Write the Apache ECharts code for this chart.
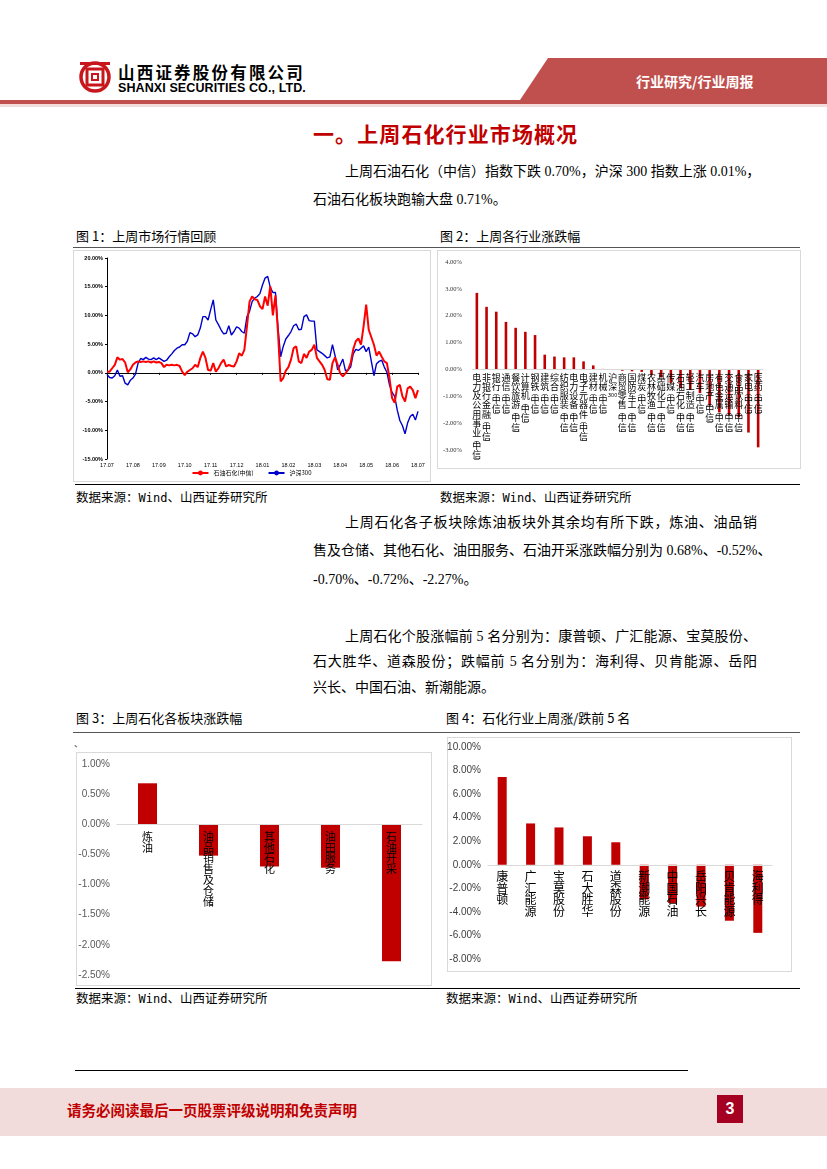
<!DOCTYPE html>
<html><head><meta charset="utf-8">
<script src="https://cdn.jsdelivr.net/npm/echarts@6/dist/echarts.min.js"></script>
<style>
body{margin:0;width:827px;height:1169px;position:relative;background:#fff;overflow:hidden;font-family:"Liberation Serif","Noto Sans CJK SC",serif;}
.abs{position:absolute}
.p{position:absolute;font-size:14px;color:#000;white-space:nowrap;line-height:16px;font-family:"Liberation Serif","Noto Sans CJK SC",serif;}
.j{text-align:justify;text-align-last:justify;}
.cap{position:absolute;font-size:13px;color:#000;white-space:nowrap;line-height:16px;font-family:"Noto Sans CJK SC",sans-serif;}
.src{position:absolute;font-size:12.5px;color:#000;white-space:nowrap;line-height:16px;font-family:"Noto Sans CJK SC",sans-serif;}
.src b{font-family:"DejaVu Sans Mono",monospace;font-weight:normal;font-size:12px}
.hl{position:absolute;height:0;}
.box{position:absolute;box-sizing:border-box;border:1px solid #d9d9d9;}
</style></head>
<body>
<!-- header -->
<svg class="abs" style="left:0;top:0" width="827" height="110">
  <polygon points="520,100 548,58 827,58 827,100" fill="#c0504d"/>
  <rect x="0" y="100" width="827" height="4" fill="#c0504d"/>
  <rect x="0" y="104" width="827" height="3" fill="#f2dcdb"/>
  <g fill="none" stroke="#c8161d">
    <circle cx="95" cy="77" r="14" stroke-width="3.5"/>
    <rect x="87" y="69" width="16" height="16" stroke-width="3"/>
    <rect x="92" y="74" width="6" height="6" stroke-width="2"/>
  </g>
  <rect x="80" y="62" width="30" height="3" fill="#c8161d"/>
</svg>
<div class="abs" style="left:118px;top:62px;font-size:16.5px;font-weight:bold;letter-spacing:2.2px;font-family:'Noto Sans CJK SC',sans-serif;line-height:20px;">山西证券股份有限公司</div>
<div class="abs" style="left:118px;top:81px;font-size:12.5px;font-weight:bold;font-family:'Liberation Sans',sans-serif;line-height:14px;letter-spacing:0.1px">SHANXI SECURITIES CO., LTD.</div>
<div class="abs" style="left:636px;top:72px;font-size:14px;color:#fff;font-weight:bold;font-family:'Noto Sans CJK SC',sans-serif;line-height:18px;">行业研究/行业周报</div>

<div class="abs" style="left:313px;top:120px;font-size:21px;color:#c00000;font-weight:bold;font-family:'Noto Sans CJK SC',sans-serif;line-height:26px;letter-spacing:1.1px">一。上周石化行业市场概况</div>

<div class="p j" style="left:345px;top:164px;width:412px">上周石油石化（中信）指数下跌 0.70%，沪深 300 指数上涨 0.01%，</div>
<div class="p" style="left:313px;top:192px;">石油石化板块跑输大盘 0.71%。</div>

<div class="cap" style="left:76px;top:228px;">图 1：上周市场行情回顾</div>
<div class="cap" style="left:440px;top:228px;">图 2：上周各行业涨跌幅</div>
<div class="hl" style="left:73px;top:247px;width:727px;border-top:1.5px solid #555"></div>

<div class="box" style="left:73px;top:250px;width:358px;height:232px"></div>
<div class="box" style="left:437px;top:250px;width:364px;height:219px"></div>
<div id="c1" class="abs" style="left:73px;top:251px;width:357px;height:230px"></div>
<div id="c2" class="abs" style="left:437px;top:251px;width:363px;height:217px"></div>

<div class="hl" style="left:75px;top:484px;width:725px;border-top:1px solid #000"></div>
<div class="src" style="left:76px;top:489px;">数据来源：<b>Wind</b>、山西证券研究所</div>
<div class="src" style="left:440px;top:489px;">数据来源：<b>Wind</b>、山西证券研究所</div>

<div class="p j" style="left:345px;top:515px;width:412px">上周石化各子板块除炼油板块外其余均有所下跌，炼油、油品销</div>
<div class="p j" style="left:313px;top:543px;width:444px">售及仓储、其他石化、油田服务、石油开采涨跌幅分别为 0.68%、-0.52%、</div>
<div class="p" style="left:313px;top:572px;">-0.70%、-0.72%、-2.27%。</div>
<div class="p j" style="left:345px;top:629px;width:412px">上周石化个股涨幅前 5 名分别为：康普顿、广汇能源、宝莫股份、</div>
<div class="p j" style="left:313px;top:654px;width:444px">石大胜华、道森股份；跌幅前 5 名分别为：海利得、贝肯能源、岳阳</div>
<div class="p" style="left:313px;top:680px;">兴长、中国石油、新潮能源。</div>

<div class="cap" style="left:76px;top:710px;">图 3：上周石化各板块涨跌幅</div>
<div class="cap" style="left:446px;top:710px;">图 4：石化行业上周涨/跌前 5 名</div>
<div class="hl" style="left:73px;top:732px;width:727px;border-top:1.5px solid #555"></div>
<div class="abs" style="left:74px;top:739px;font-size:9px;line-height:10px;color:#333">、</div>

<div class="box" style="left:76px;top:752px;width:356px;height:234px"></div>
<div class="box" style="left:447px;top:737px;width:345px;height:235px"></div>
<div id="c3" class="abs" style="left:76px;top:752px;width:356px;height:234px"></div>
<div id="c4" class="abs" style="left:447px;top:737px;width:345px;height:235px"></div>

<div class="hl" style="left:75px;top:988px;width:725px;border-top:1px solid #000"></div>
<div class="src" style="left:76px;top:990px;">数据来源：<b>Wind</b>、山西证券研究所</div>
<div class="src" style="left:446px;top:990px;">数据来源：<b>Wind</b>、山西证券研究所</div>

<div class="hl" style="left:75px;top:1070px;width:613px;border-top:1px solid #000"></div>
<div class="abs" style="left:0;top:1088px;width:827px;height:48px;background:#f2dcdb"></div>
<div class="abs" style="left:67px;top:1101px;font-size:14.5px;color:#c00000;font-weight:bold;font-family:'Noto Sans CJK SC',sans-serif;line-height:18px;">请务必阅读最后一页股票评级说明和免责声明</div>
<div class="abs" style="left:717px;top:1095px;width:26px;height:28px;background:#a50021;color:#fff;font-size:16px;line-height:28px;text-align:center;font-family:'Liberation Sans Narrow','Liberation Sans',sans-serif;font-weight:bold">3</div>

<script>
// ---------- Figure 1 data ----------
var months1 = ['17.07','17.08','17.09','17.10','17.11','17.12','18.01','18.02','18.03','18.04','18.05','18.06','18.07'];
var seriesNames1 = ['石油石化(中信)','沪深300'];
var petro = [0.2,0.2,0.8,1.4,2.7,2.3,2.4,1.8,0.1,0.6,
 1.4,1.8,2.0,1.9,2.0,1.9,2.0,1.8,2.0,1.8,
 1.9,1.7,1.0,1.4,1.3,1.4,1.3,1.4,1.2,0.2,
 -0.4,0.2,0.5,0.8,1.4,1.0,2.6,3.7,2.6,0.5,
 0.4,1.7,0.2,0.8,1.7,2.3,1.1,1.4,1.2,1.1,
 2.0,3.4,3.0,4.0,8.1,12.4,13.3,12.8,12.7,11.6,
 11.1,13.3,11.7,15.1,10.0,13.5,6.9,-1.5,-0.9,0.4,
 1.0,2.3,4.3,4.6,2.0,1.7,3.3,2.6,3.7,4.0,
 4.9,2.6,2.0,1.4,0.5,-1.1,-1.2,1.7,2.7,1.4,
 -0.1,-0.6,-0.1,0.5,1.7,4.1,5.5,6.0,4.9,8.1,
 11.9,7.5,6.2,4.9,3.0,3.7,2.8,2.0,1.7,-0.9,
 -4.4,-5.2,-2.4,-2.1,-4.1,-5.0,-2.7,-2.4,-3.0,-4.4,
 -3.0];
var hs300 = [-0.3,-0.8,-0.9,-0.5,0.5,-0.6,-0.5,-1.8,-2.1,-1.3,
 -0.9,-0.2,1.7,2.5,2.3,2.7,2.4,2.3,2.6,2.3,
 2.6,2.3,2.0,2.2,2.8,3.3,3.9,4.3,4.5,4.9,
 4.9,5.5,7.0,6.8,6.3,6.6,7.8,9.8,9.8,9.2,
 11.0,12.7,9.2,8.4,7.5,6.8,6.9,8.2,6.6,7.2,
 8.0,7.8,7.2,6.9,9.8,10.7,12.4,13.0,13.3,13.8,
 15.3,16.5,16.8,14.9,14.0,14.0,7.8,2.8,4.6,5.9,
 6.5,7.2,8.2,8.5,7.5,7.6,9.8,10.1,9.1,9.0,
 9.0,4.0,3.7,3.4,3.0,2.6,2.8,4.9,3.0,0.5,
 1.4,2.4,0.4,0.5,1.0,3.3,4.1,3.9,4.3,4.7,
 3.7,4.5,2.0,-0.5,1.6,2.0,2.2,1.0,0.1,-2.1,
 -3.4,-4.1,-6.5,-8.3,-9.2,-10.6,-8.7,-7.6,-7.2,-8.2,
 -6.7];

// ---------- Figure 2 data ----------
var industries = ['电力及公用事业(中信)','非银行金融(中信)','银行(中信)','通信(中信)','餐饮旅游(中信)','计算机(中信)','钢铁(中信)','建筑(中信)','综合(中信)','纺织服装(中信)','电力设备(中信)','电子元器件(中信)','建材(中信)','机械(中信)','沪深300','商贸零售(中信)','国防军工(中信)','煤炭(中信)','农林牧渔(中信)','基础化工(中信)','传媒(中信)','石油石化(中信)','轻工制造(中信)','汽车(中信)','房地产(中信)','有色金属(中信)','交通运输(中信)','食品饮料(中信)','家电(中信)','医药(中信)'];
var industryChg = [2.85,2.33,2.15,1.77,1.55,1.40,1.28,0.55,0.48,0.45,0.45,0.30,0.15,0.02,0.01,-0.05,-0.07,-0.09,-0.22,-0.30,-0.50,-0.70,-0.75,-0.88,-1.35,-1.60,-1.70,-1.78,-2.35,-2.90];

// ---------- Figure 3 data ----------
var sectors = ['炼油','油品销售及仓储','其他石化','油田服务','石油开采'];
var sectorChg = [0.68,-0.52,-0.70,-0.72,-2.27];

// ---------- Figure 4 data ----------
var stocks = ['康普顿','广汇能源','宝莫股份','石大胜华','道森股份','新潮能源','中国石油','岳阳兴长','贝肯能源','海利得'];
var stockChg = [7.45,3.51,3.17,2.42,1.91,-2.94,-3.25,-3.55,-4.75,-5.78];

var pct = function(v){ return v.toFixed(2) + '%'; };
function vert(s){ return s.split('').join('\n'); }
function vertRich(s){
  var toks = s.match(/\d+|./g);
  return toks.map(function(t){
    if (t === '(') return '{p|︵}';
    if (t === ')') return '{p|︶}';
    if (/\d/.test(t)) return '{n|' + t + '}';
    return t;
  }).join('\n');
}
function gridOpt(l,r,t,b){ return {left:l,right:r,top:t,bottom:b,containLabel:false,outerBoundsMode:'none'}; }
// move the category axis (line + labels) to the value 0 of the y axis
function axisToZero(chart, gridBottom){
  var zeroY = chart.convertToPixel({yAxisIndex:0}, 0);
  var bottomY = chart.getHeight() - gridBottom;
  chart.setOption({xAxis:{offset: -(bottomY - zeroY)}});
}

// Chart 1
var idx = petro.map(function(_, i){ return i; });
var c1 = echarts.init(document.getElementById('c1'));
c1.setOption({
  animation:false,
  grid:gridOpt(34,12,7,22),
  legend:{data:seriesNames1,bottom:0,left:'center',itemWidth:16,itemHeight:6,itemGap:14,
    textStyle:{fontSize:6,color:'#000',fontFamily:'Noto Sans CJK SC'}},
  xAxis:{type:'category',data:idx,boundaryGap:false,
    axisLine:{lineStyle:{color:'#000',width:1}},
    axisTick:{interval:9,length:2,lineStyle:{color:'#000'}},
    axisLabel:{interval:9,fontSize:5.5,color:'#000',margin:3,fontFamily:'Liberation Sans',
      formatter:function(v,i){ return months1[Math.round(i/10)]; }}},
  yAxis:{type:'value',min:-15,max:20,interval:5,
    axisLine:{show:true,lineStyle:{color:'#000',width:1}},
    axisTick:{show:true,length:2,lineStyle:{color:'#000'}},
    splitLine:{show:false},
    axisLabel:{fontSize:5.5,fontWeight:'bold',color:'#000',margin:4,fontFamily:'Liberation Sans',formatter:pct}},
  series:[
    {name:seriesNames1[0],type:'line',data:petro,symbol:'none',lineStyle:{color:'#ff0000',width:2},itemStyle:{color:'#ff0000'},z:3},
    {name:seriesNames1[1],type:'line',data:hs300,symbol:'none',lineStyle:{color:'#0000cc',width:1.4},itemStyle:{color:'#0000cc'},z:2}
  ]
});

// Chart 2
var c2 = echarts.init(document.getElementById('c2'));
c2.setOption({
  animation:false,
  grid:gridOpt(35,37,11,18),
  xAxis:{type:'category',data:industries,z:10,
    axisLine:{onZero:false,lineStyle:{color:'#d9d9d9'}},
    axisTick:{show:false},
    axisLabel:{interval:0,hideOverlap:false,margin:3,fontSize:9,lineHeight:9.3,color:'#000',
      fontFamily:'Noto Sans CJK SC',formatter:vertRich,
      rich:{p:{fontSize:7,lineHeight:3.5,color:'#000'},n:{fontSize:5.5,lineHeight:8,color:'#000'}}}},
  yAxis:{type:'value',min:-3,max:4,interval:1,
    axisLine:{show:false},axisTick:{show:false},splitLine:{show:false},
    axisLabel:{fontSize:6.5,color:'#333',margin:10,fontFamily:'Liberation Serif',formatter:pct}},
  series:[{type:'bar',data:industryChg,barWidth:2.6,itemStyle:{color:'#c00000'}}]
});
axisToZero(c2, 18);

// Chart 3
var c3 = echarts.init(document.getElementById('c3'));
c3.setOption({
  animation:false,
  grid:gridOpt(41,10,12,11),
  xAxis:{type:'category',data:sectors,z:10,
    axisLine:{onZero:false,lineStyle:{color:'#d9d9d9'}},
    axisTick:{show:false},
    axisLabel:{interval:0,margin:7,fontSize:11,lineHeight:10.8,color:'#000',fontFamily:'Noto Sans CJK SC',formatter:vert}},
  yAxis:{type:'value',min:-2.5,max:1,interval:0.5,
    axisLine:{show:false},axisTick:{show:false},splitLine:{show:false},
    axisLabel:{fontSize:10,color:'#595959',margin:7,fontFamily:'Liberation Sans',formatter:pct}},
  series:[{type:'bar',data:sectorChg,barWidth:19,itemStyle:{color:'#c00000'}}]
});
axisToZero(c3, 11);

// Chart 4
var c4 = echarts.init(document.getElementById('c4'));
c4.setOption({
  animation:false,
  grid:gridOpt(41,20,10,13),
  xAxis:{type:'category',data:stocks,z:10,
    axisLine:{onZero:false,lineStyle:{color:'#d9d9d9'}},
    axisTick:{show:false},
    axisLabel:{interval:0,margin:6,fontSize:12,lineHeight:11.5,color:'#000',fontFamily:'Noto Sans CJK SC',formatter:vert}},
  yAxis:{type:'value',min:-8,max:10,interval:2,
    axisLine:{show:false},axisTick:{show:false},splitLine:{show:false},
    axisLabel:{fontSize:10,color:'#404040',margin:7,fontFamily:'Liberation Sans',formatter:pct}},
  series:[{type:'bar',data:stockChg,barWidth:9,itemStyle:{color:'#c00000'}}]
});
axisToZero(c4, 13);
</script>
</body></html>
